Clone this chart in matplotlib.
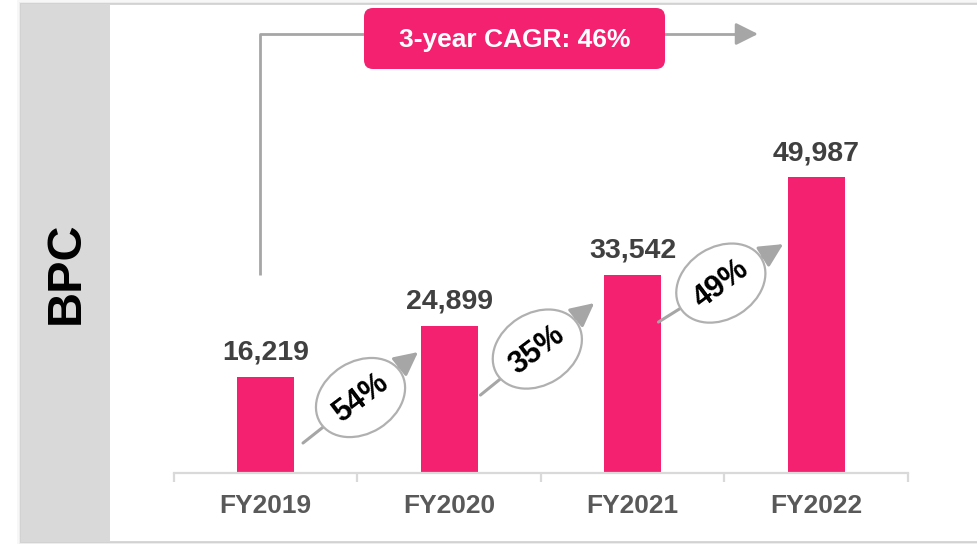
import matplotlib
matplotlib.use("Agg")
from matplotlib import pyplot as plt
from matplotlib.patches import Rectangle, Ellipse, FancyBboxPatch

plt.rcParams['font.family'] = ['Liberation Sans', 'DejaVu Sans']

# data
years = ["FY2019", "FY2020", "FY2021", "FY2022"]
bpc = [16219, 24899, 33542, 49987]
growth = ["54%", "35%", "49%"]
cagr_label = "3-year CAGR: 46%"
panel_label = "BPC"

PINK = "#F32170"
ARROW_GRAY = "#A6A6A6"

W, H = 978, 544
fig = plt.figure(figsize=(W / 100, H / 100), dpi=100)

# background layer in pixel coords (y from top)
bg = fig.add_axes([0, 0, 1, 1], zorder=0)
bg.set_xlim(0, W)
bg.set_ylim(H, 0)
bg.axis("off")

# card with soft shadow
for off, a in [(4, 0.06), (2.5, 0.08), (1.2, 0.12)]:
    bg.add_patch(Rectangle((21 - off, 4 - off), 1000, 538 + 2 * off,
                           facecolor="#808080", edgecolor="none", alpha=a))
bg.add_patch(Rectangle((21, 4), 1000, 538, facecolor="white",
                       edgecolor="#D0D0D0", linewidth=1.2))
bg.add_patch(Rectangle((21, 4), 89, 538, facecolor="#D9D9D9", edgecolor="none"))
bg.text(66, 273, panel_label, rotation=90, ha="center", va="center",
        fontsize=35, fontweight="bold", color="black")

# CAGR bracket + box
bg.plot([260, 260, 745], [275, 34, 34], color=ARROW_GRAY, lw=2, solid_capstyle="butt")
bg.annotate("", xy=(758, 34), xytext=(740, 34),
            arrowprops=dict(arrowstyle="-|>,head_length=0.9,head_width=0.45",
                            color=ARROW_GRAY, lw=2, mutation_scale=15,
                            shrinkA=0, shrinkB=0))
bg.add_patch(FancyBboxPatch((364, 8), 301, 61,
                            boxstyle="round,pad=0,rounding_size=9",
                            facecolor=PINK, edgecolor="none", zorder=3))
bg.text(514.5, 40, cagr_label, ha="center", va="center", fontsize=19,
        fontweight="bold", color="white", zorder=4)

# main bar chart
ax = fig.add_axes([174 / W, 71 / H, 734 / W, 469 / H], zorder=1)
ax.patch.set_alpha(0)
x = list(range(len(years)))
ax.bar(x, bpc, width=0.31, color=PINK, zorder=2)
ax.set_xlim(-0.5, len(years) - 0.5)
ax.set_ylim(0, 79300)

for i, v in enumerate(bpc):
    ax.annotate(f"{v:,}", (i, v), xytext=(0, 12.5), textcoords="offset points",
                ha="center", va="baseline", fontsize=20.5, fontweight="bold",
                color="#404040")

for s in ["top", "right", "left"]:
    ax.spines[s].set_visible(False)
ax.spines["bottom"].set_color("#D9D9D9")
ax.spines["bottom"].set_linewidth(1.6)
ax.set_yticks([])
ax.set_xticks(x)
ax.set_xticklabels(years, fontsize=19, fontweight="bold", color="#595959")
ax.tick_params(axis="x", which="major", length=0, pad=15)
ax.set_xticks([i - 0.5 for i in range(len(years) + 1)], minor=True)
ax.tick_params(axis="x", which="minor", length=6.5, width=1.6, color="#D9D9D9")

# growth arrows with ellipse labels (positions in bar data coords)
arrow_from = [(0.203, 5070), (1.17, 13180), (2.14, 25520)]
arrow_to = [(0.83, 20450), (1.79, 28730), (2.82, 38700)]

fg = fig.add_axes([0, 0, 1, 1], zorder=2)
fg.set_xlim(0, W)
fg.set_ylim(0, H)
fg.axis("off")
fig.canvas.draw()
for (p0, p1, lab) in zip(arrow_from, arrow_to, growth):
    a0 = ax.transData.transform(p0)
    a1 = ax.transData.transform(p1)
    fg.annotate("", xy=a1, xytext=a0,
                arrowprops=dict(arrowstyle="-|>,head_length=0.9,head_width=0.45",
                                color=ARROW_GRAY, lw=2.2, mutation_scale=16,
                                shrinkA=0, shrinkB=0), zorder=1)
    cx, cy = (a0[0] + a1[0]) / 2, (a0[1] + a1[1]) / 2
    fg.add_patch(Ellipse((cx, cy), 95, 72, angle=32, facecolor="white",
                         edgecolor="#B0B0B0", lw=1.6, zorder=2))
    fg.text(cx, cy - 1, lab, rotation=37, ha="center", va="center",
            rotation_mode="anchor", fontsize=22, fontweight="bold",
            color="black", zorder=3)

fig.savefig("out.png", dpi=100)
